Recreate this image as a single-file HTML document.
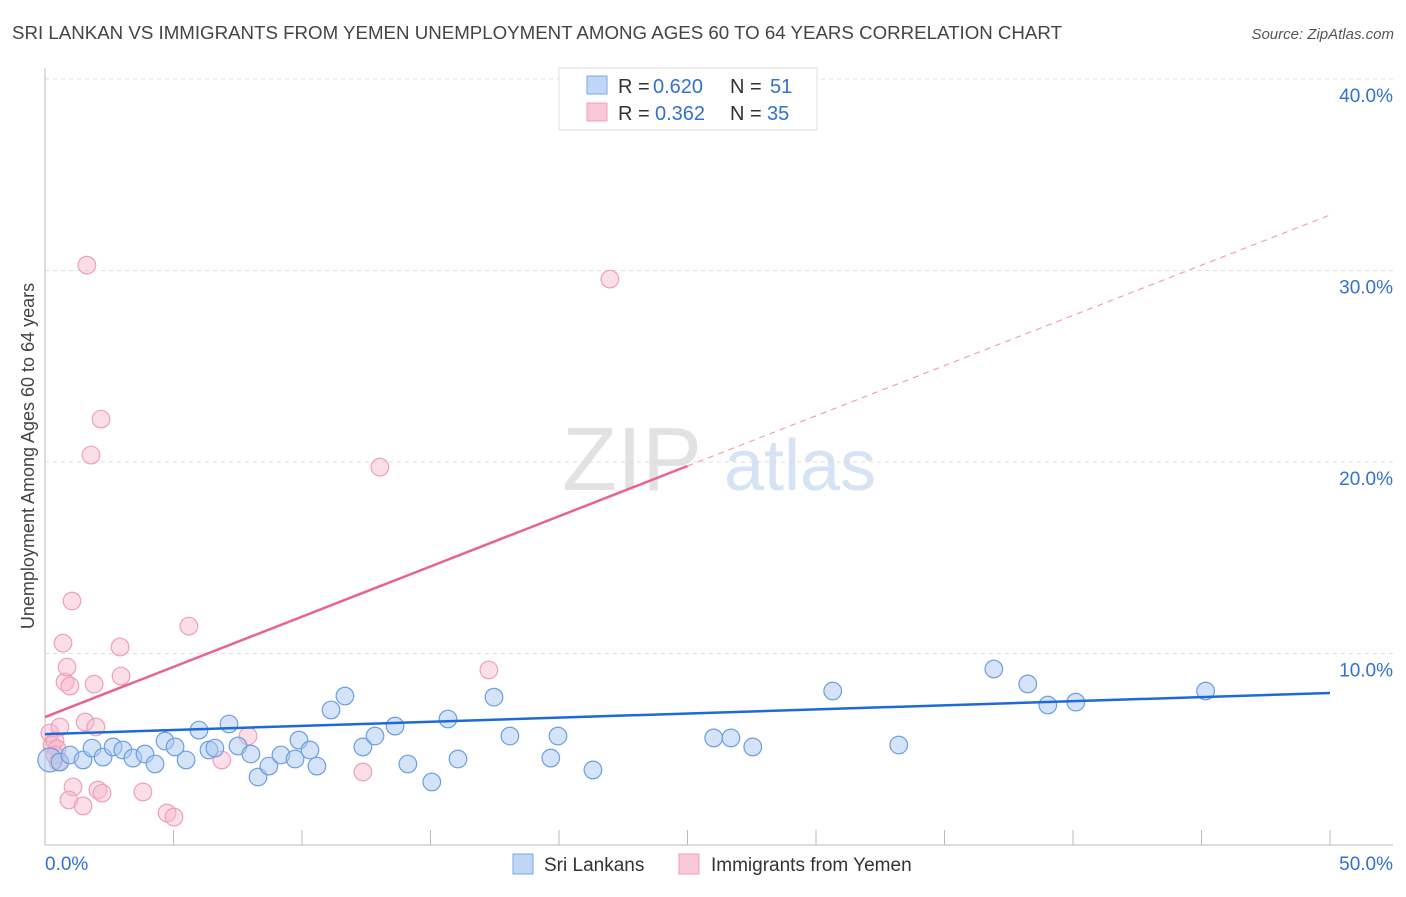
<!DOCTYPE html>
<html><head><meta charset="utf-8"><style>
body{margin:0;background:#fff;font-family:"Liberation Sans",sans-serif;}
svg text{font-family:"Liberation Sans",sans-serif;}
</style></head><body>
<svg id="chart" width="1406" height="892" xmlns="http://www.w3.org/2000/svg">
<text x="12" y="39" font-size="18" fill="#444" textLength="1050" lengthAdjust="spacingAndGlyphs">SRI LANKAN VS IMMIGRANTS FROM YEMEN UNEMPLOYMENT AMONG AGES 60 TO 64 YEARS CORRELATION CHART</text>
<text x="1394" y="39" font-size="15" fill="#555" text-anchor="end" font-style="italic">Source: ZipAtlas.com</text>
<text transform="translate(34,456) rotate(-90)" font-size="18" fill="#444" text-anchor="middle">Unemployment Among Ages 60 to 64 years</text>
<g>
<text x="632" y="490" font-size="90" fill="#e2e2e2" font-family="Liberation Serif" text-anchor="middle">ZIP</text>
<text x="800" y="490" font-size="72" fill="#d6e3f4" text-anchor="middle">atlas</text>
</g>
<g id="grid"></g><g id="axes"></g><g id="marks"></g>
<g>
<rect x="559" y="68" width="258" height="62" fill="#fff" stroke="#ddd"/>
<rect x="587" y="76" width="20" height="18" fill="#c0d6f5" stroke="#7aa8e6"/>
<text x="618" y="93" font-size="20" fill="#333">R =</text>
<text x="653" y="93" font-size="20" fill="#3470d0">0.620</text>
<text x="730" y="93" font-size="20" fill="#333">N =</text>
<text x="770" y="93" font-size="20" fill="#3470d0">51</text>
<rect x="587" y="103" width="20" height="18" fill="#f8c8d6" stroke="#eea0b8"/>
<text x="618" y="120" font-size="20" fill="#333">R =</text>
<text x="655" y="120" font-size="20" fill="#3470d0">0.362</text>
<text x="730" y="120" font-size="20" fill="#333">N =</text>
<text x="767" y="120" font-size="20" fill="#3470d0">35</text>
</g>
<g>
<rect x="513" y="854" width="20" height="20" fill="#c0d6f5" stroke="#7aa8e6"/>
<text x="544" y="871" font-size="19" fill="#333">Sri Lankans</text>
<rect x="679" y="854" width="20" height="20" fill="#f8c8d6" stroke="#eea0b8"/>
<text x="711" y="871" font-size="19" fill="#333">Immigrants from Yemen</text>
</g>
</svg>
<script>
const blueX=[0.19,0.58,0.97,1.48,1.83,2.26,2.65,3.03,3.42,3.89,4.28,4.67,5.06,5.49,5.99,6.38,6.61,7.16,7.51,8.01,8.29,8.71,9.18,9.73,9.88,10.31,10.58,11.13,11.67,12.37,12.84,13.62,14.12,15.05,15.68,16.07,17.47,18.09,19.68,19.96,21.32,26.02,26.69,27.54,30.65,33.22,36.92,38.24,39.02,40.11,45.16];
const blueY=[4.44,4.33,4.70,4.44,5.06,4.59,5.12,4.96,4.54,4.75,4.23,5.43,5.12,4.44,6.00,4.96,5.06,6.32,5.17,4.75,3.55,4.12,4.70,4.49,5.48,4.96,4.12,7.05,7.78,5.12,5.69,6.21,4.23,3.29,6.58,4.49,7.72,5.69,4.54,5.69,3.92,5.59,5.59,5.12,8.04,5.22,9.19,8.41,7.31,7.46,8.04];
const pinkX=[0.19,0.27,0.39,0.47,0.51,0.58,0.70,0.78,0.86,0.97,1.05,1.09,0.93,1.48,1.56,1.63,1.79,1.91,1.98,2.06,2.18,2.22,2.92,2.96,3.81,4.75,5.02,5.60,6.88,7.90,12.37,13.03,17.27,21.98,0.39];
const pinkY=[5.85,5.22,5.43,5.01,4.33,6.16,10.54,8.51,9.29,8.30,12.74,3.03,2.35,2.04,6.42,30.28,20.36,8.40,6.16,2.87,22.24,2.71,10.34,8.82,2.77,1.67,1.46,11.43,4.44,5.69,3.81,19.73,9.14,29.55,4.70];
const blueTrend=[5.79,7.94];
const pinkTrend=[6.68,32.9];
const pinkSolidEnd=25;
const yTicks=[10,20,30,40];
const xTickVals=[0,5,10,15,20,25,30,35,40,45,50];
const NS="http://www.w3.org/2000/svg";
const xs=v=>45+v*25.7, ys=v=>845-v*19.15;
function mk(t,a,p){const e=document.createElementNS(NS,t);for(const k in a)e.setAttribute(k,a[k]);p.appendChild(e);return e;}
const grid=document.getElementById('grid'),axes=document.getElementById('axes'),marks=document.getElementById('marks');
yTicks.forEach(v=>{
 const l=mk('line',{x1:45,x2:1393,y1:ys(v),y2:ys(v),stroke:'#ddd','stroke-dasharray':'4,4'},grid);
 
 
 const t=mk('text',{x:1393,y:ys(v)+23,'font-size':19,fill:'#3470d0','text-anchor':'end'},axes);
 t.textContent=v.toFixed(1)+'%';
 
 
});
const ax=mk('line',{x1:45,x2:1393,y1:845,y2:845,stroke:'#bbb'},axes);


const ay=mk('line',{x1:45,x2:45,y1:68,y2:845,stroke:'#bbb'},axes);


xTickVals.forEach(v=>{
 const l=mk('line',{x1:xs(v),x2:xs(v),y1:830,y2:845,stroke:'#bbb'},axes);
 
 
});
[[0,45,'start'],[50,1393,'end']].forEach(([v,x,a])=>{
 const t=mk('text',{x:x,y:870,'font-size':19,fill:'#3470d0','text-anchor':a},axes);
 t.textContent=v.toFixed(1)+'%';
 
 
});
pinkX.forEach((x,i)=>{
 const c=mk('circle',{cx:xs(x),cy:ys(pinkY[i]),r:8.8,fill:'rgba(246,182,202,0.45)',stroke:'#eea0b8','stroke-width':1.2},marks);
 
 
});
blueX.forEach((x,i)=>{
 const c=mk('circle',{cx:xs(x),cy:ys(blueY[i]),r:i==0?12:8.8,fill:'rgba(170,200,240,0.5)',stroke:'#6a9fe0','stroke-width':1.2},marks);
 
 
});
const pv=x=>pinkTrend[0]+(pinkTrend[1]-pinkTrend[0])*x/50;
const pl=mk('line',{x1:xs(0),y1:ys(pinkTrend[0]),x2:xs(pinkSolidEnd),y2:ys(pv(pinkSolidEnd)),stroke:'#e8638e','stroke-width':2.5},marks);


const pd=mk('line',{x1:xs(pinkSolidEnd),y1:ys(pv(pinkSolidEnd)),x2:xs(50),y2:ys(pinkTrend[1]),stroke:'#eea0b8','stroke-width':1.2,'stroke-dasharray':'6,5'},marks);


const bl=mk('line',{x1:xs(0),y1:ys(blueTrend[0]),x2:xs(50),y2:ys(blueTrend[1]),stroke:'#1e6ad6','stroke-width':2.5},marks);


</script>
</body></html>
